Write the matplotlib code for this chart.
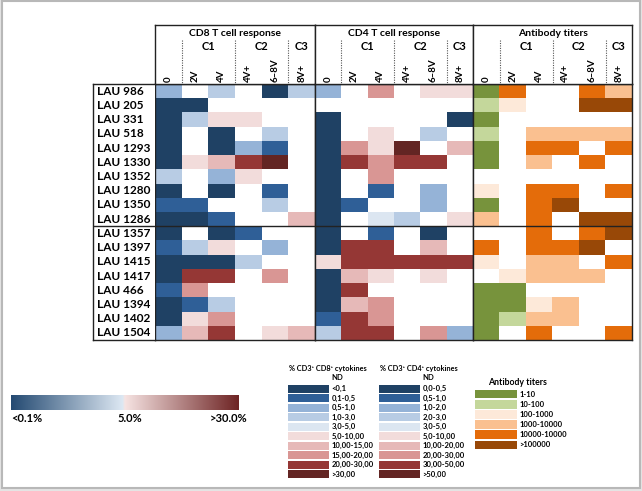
import numpy as np
import matplotlib
matplotlib.use('Agg')
import matplotlib.pyplot as plt
from matplotlib.colors import ListedColormap, BoundaryNorm, LinearSegmentedColormap
from matplotlib.patches import Rectangle

plt.rcParams['font.family'] = ['Lato', 'DejaVu Sans']

W, H = 642, 491

patients = ['LAU 986', 'LAU 205', 'LAU 331', 'LAU 518', 'LAU 1293', 'LAU 1330',
            'LAU 1352', 'LAU 1280', 'LAU 1350', 'LAU 1286', 'LAU 1357', 'LAU 1397',
            'LAU 1415', 'LAU 1417', 'LAU 466', 'LAU 1394', 'LAU 1402', 'LAU 1504']
columns = ['0', '2V', '4V', '4V+', '6\u20138V', '8V+']
groups = [('C1', 1.5), ('C2', 3.5), ('C3', 5)]

# level codes: 0 = ND (white), 1..10 = legend classes
cd8 = [[3, 0, 4, 0, 1, 4],
       [1, 1, 0, 0, 0, 0],
       [1, 4, 6, 6, 0, 0],
       [1, 0, 1, 0, 4, 0],
       [1, 0, 1, 3, 2, 0],
       [1, 6, 7, 9, 10, 0],
       [4, 0, 3, 6, 0, 0],
       [1, 0, 1, 0, 2, 0],
       [2, 2, 0, 0, 4, 0],
       [1, 1, 2, 0, 0, 7],
       [1, 0, 1, 2, 0, 0],
       [2, 4, 6, 0, 3, 0],
       [1, 1, 1, 4, 0, 0],
       [1, 9, 9, 0, 8, 0],
       [2, 8, 0, 0, 0, 0],
       [1, 2, 4, 0, 0, 0],
       [1, 6, 8, 0, 0, 0],
       [3, 7, 9, 0, 6, 7]]

cd4 = [[3, 0, 8, 0, 6, 6],
       [0, 0, 0, 0, 0, 0],
       [1, 0, 0, 0, 0, 1],
       [1, 0, 6, 0, 4, 0],
       [1, 8, 6, 10, 0, 7],
       [1, 9, 8, 9, 9, 0],
       [1, 0, 8, 0, 0, 0],
       [1, 0, 2, 0, 3, 0],
       [1, 2, 0, 0, 3, 0],
       [1, 0, 5, 4, 0, 6],
       [1, 0, 2, 0, 1, 0],
       [1, 9, 9, 0, 7, 0],
       [6, 9, 9, 9, 9, 9],
       [1, 7, 6, 0, 6, 0],
       [1, 9, 0, 0, 0, 0],
       [1, 7, 8, 0, 0, 0],
       [2, 9, 8, 0, 0, 0],
       [4, 9, 9, 0, 8, 3]]

antibody = [[1, 5, 0, 0, 5, 4],
            [2, 3, 0, 0, 6, 6],
            [1, 0, 0, 0, 0, 0],
            [2, 0, 4, 4, 4, 4],
            [1, 0, 5, 5, 0, 5],
            [1, 0, 4, 0, 5, 0],
            [0, 0, 0, 0, 0, 0],
            [3, 0, 5, 5, 0, 5],
            [1, 0, 5, 6, 0, 0],
            [4, 0, 5, 0, 6, 6],
            [0, 0, 5, 0, 5, 6],
            [5, 0, 5, 5, 6, 0],
            [3, 0, 4, 4, 0, 5],
            [0, 3, 4, 4, 4, 0],
            [1, 1, 0, 0, 0, 0],
            [1, 1, 3, 4, 0, 0],
            [1, 2, 4, 4, 0, 0],
            [1, 0, 5, 0, 0, 5]]

cell_colors = ['#ffffff', '#1f4164', '#2f5f97', '#95b3d7', '#b8cce4', '#dce6f1',
               '#f2dcdb', '#e6b9b8', '#d99694', '#953735', '#632523']
ab_colors = ['#ffffff', '#77933c', '#c4d79b', '#fde9d9', '#fac090', '#e46c0a', '#984807']

cd8_labels = ['<0,1', '0,1-0,5', '0,5-1,0', '1,0-3,0', '3,0-5,0', '5,0-10,00',
              '10,00-15,00', '15,00-20,00', '20,00-30,00', '>30,00']
cd4_labels = ['0,0-0,5', '0,5-1,0', '1,0-2,0', '2,0-3,0', '3,0-5,0', '5,0-10,00',
              '10,00-20,00', '20,00-30,00', '30,00-50,00', '>50,00']
ab_labels = ['1-10', '10-100', '100-1000', '1000-10000', '10000-10000', '>100000']
bar_labels = ['<0.1%', '5.0%', '>30.0%']
bar_pos = [0.07, 0.52, 0.955]


def box(x0, y0, x1, y1):
    return [x0 / W, 1 - y1 / H, (x1 - x0) / W, (y1 - y0) / H]


fig = plt.figure(figsize=(W / 100, H / 100), dpi=100)
fig.patch.set_facecolor('#e4e4e4')
bg = fig.add_axes([0, 0, 1, 1], zorder=-5)
bg.set_xlim(0, W)
bg.set_ylim(H, 0)
bg.axis('off')
bg.add_patch(Rectangle((1.5, 0.5), 638, 487, facecolor='white', edgecolor='#b8b8b8', lw=1.5))

line_c = '#222222'
top, bottom = 84, 340
panels = [('CD8 T cell response', cd8, cell_colors, 155, 315),
          ('CD4 T cell response', cd4, cell_colors, 315, 473),
          ('Antibody titers', antibody, ab_colors, 473, 632)]

for title, mat, cols, x0, x1 in panels:
    ax = fig.add_axes(box(x0, top, x1, bottom))
    n = len(cols)
    ax.imshow(np.array(mat), cmap=ListedColormap(cols),
              norm=BoundaryNorm(np.arange(-0.5, n), n), aspect='auto',
              interpolation='nearest')
    ax.axhline(9.5, color=line_c, lw=1)
    ax.set_xticks([])
    ax.set_yticks([])
    for s in ax.spines.values():
        s.set_color(line_c)
        s.set_linewidth(1)

    hx = fig.add_axes(box(x0, 25, x1, top))
    hx.set_xlim(-0.5, 5.5)
    hx.set_ylim(top, 25)
    hx.set_xticks([])
    hx.set_yticks([])
    for s in hx.spines.values():
        s.set_color(line_c)
        s.set_linewidth(1)
    hx.text(2.5, 33, title, ha='center', va='center', fontsize=7.5, fontweight='bold')
    for g, gx in groups:
        hx.text(gx, 47, g, ha='center', va='center', fontsize=8, fontweight='bold')
    hx.vlines([0.5, 2.5, 4.5], 40, top, colors='#555555', lw=0.8, linestyles=(0, (1, 1.2)))
    for j, c in enumerate(columns):
        hx.text(j, 82, c, rotation=90, ha='center', va='bottom', fontsize=7, fontweight='bold')

lx = fig.add_axes(box(93, top, 155, bottom))
lx.set_xlim(0, 1)
lx.set_ylim(len(patients) - 0.5, -0.5)
lx.set_xticks([])
lx.set_yticks([])
for s in lx.spines.values():
    s.set_color(line_c)
    s.set_linewidth(1)
lx.spines['right'].set_visible(False)
lx.axhline(9.5, color=line_c, lw=1)
for i, p in enumerate(patients):
    lx.text(0.06, i, p, va='center', ha='left', fontsize=8.5, fontweight='bold')

# continuous colour bar
cmap_bar = LinearSegmentedColormap.from_list(
    'bw', [(0, '#244a72'), (0.49, '#dde8f3'), (0.5, '#f6e3e2'), (1, '#6e2424')])
cb = fig.add_axes(box(11, 395, 239, 410))
cb.imshow(np.linspace(0, 1, 256)[None, :], cmap=cmap_bar, aspect='auto', extent=(0, 1, 0, 1))
cb.axis('off')
for lab, px in zip(bar_labels, bar_pos):
    cb.text(px, -0.55, lab, transform=cb.transAxes, ha='center', va='center',
            fontsize=8, fontweight='bold')


def legend(x0, y0, x1, y1, cols, labels, title, title_center=False, nd=True):
    ax = fig.add_axes(box(x0, y0, x1, y1))
    k = len(labels)
    ax.barh(range(k), 1, height=0.86, color=cols, left=0)
    ax.set_xlim(0, 1)
    ax.set_ylim(k - 0.5, -0.5)
    ax.axis('off')
    for i, lab in enumerate(labels):
        ax.text(1.06, i, lab, va='center', ha='left', fontsize=5.5, fontweight='bold')
    if nd:
        ax.text(1.06, -1.15, 'ND', va='center', ha='left', fontsize=5.5, fontweight='bold')
    if title_center:
        ax.text(1.0, -1.1, title, va='center', ha='center', fontsize=6.3, fontweight='bold')
    else:
        ax.text(0.02, -2.1, title, va='center', ha='left', fontsize=5.3, fontweight='bold')


legend(288, 384, 329, 479, cell_colors[1:], cd8_labels, '% CD3\u207a CD8\u207a cytokines')
legend(379, 384, 420, 479, cell_colors[1:], cd4_labels, '% CD3\u207a CD4\u207a cytokines')
legend(475, 389, 517, 450, ab_colors[1:], ab_labels, 'Antibody titers', title_center=True, nd=False)

fig.savefig('out.png', dpi=100)
